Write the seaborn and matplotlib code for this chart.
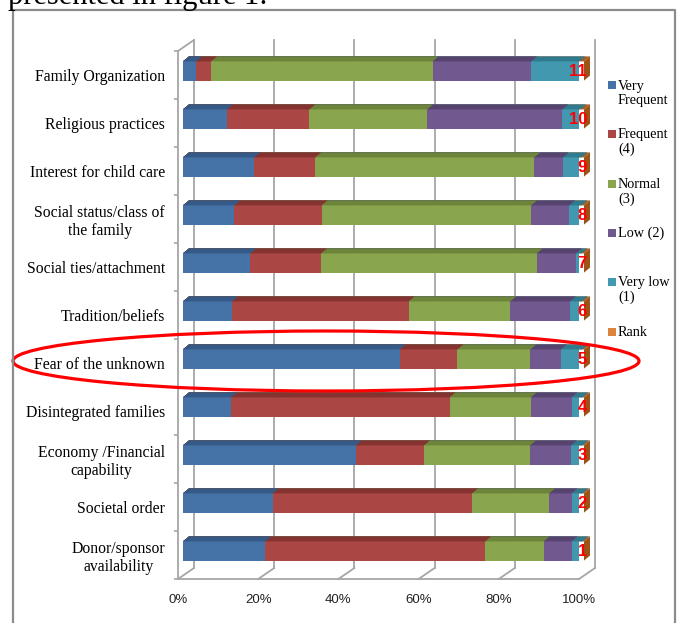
import numpy as np
import pandas as pd
import matplotlib
matplotlib.use("Agg")
import matplotlib.pyplot as plt
import seaborn as sns
from matplotlib.patches import Polygon, Rectangle, Ellipse
from matplotlib.lines import Line2D
from matplotlib.transforms import IdentityTransform, ScaledTranslation

# ---------------- data ----------------
categories = ["Family Organization", "Religious practices", "Interest for child care",
              "Social status/class of\nthe family", "Social ties/attachment", "Tradition/beliefs",
              "Fear of the unknown", "Disintegrated families", "Economy /Financial\ncapability",
              "Societal order", "Donor/sponsor\navailability"]
very_frequent = [3.3, 11.0, 17.8, 12.8, 16.8, 12.2, 54.1, 12.0, 43.2, 22.4, 20.5]
frequent = [3.7, 20.6, 15.2, 21.8, 17.7, 44.1, 14.4, 54.6, 17.0, 49.8, 55.0]
normal = [55.3, 29.5, 54.7, 52.3, 53.9, 25.4, 18.2, 20.3, 26.5, 19.3, 14.6]
low = [24.6, 33.8, 7.1, 9.5, 9.8, 14.9, 7.6, 10.2, 10.2, 5.6, 7.0]
very_low = [12.0, 4.4, 4.6, 3.0, 1.3, 2.9, 5.4, 2.7, 2.9, 2.7, 2.7]
rank_share = [1.2, 1.0, 0.7, 0.7, 0.7, 0.6, 0.4, 0.4, 0.4, 0.4, 0.4]
rank_labels = ["11", "10", "9", "8", "7", "6", "5", "4", "3", "2", "1"]
series_names = ["Very\nFrequent", "Frequent\n(4)", "Normal\n(3)", "Low (2)", "Very low\n(1)", "Rank"]
x_ticks = [0, 20, 40, 60, 80, 100]
x_tick_labels = ["0%", "20%", "40%", "60%", "80%", "100%"]

colors = ["#4572A7", "#AA4643", "#89A54E", "#71588F", "#4198AF", "#DB843D"]
top_colors = ["#355a88", "#853331", "#6b8439", "#574370", "#2f7a8d", "#a55e22"]
side_color = "#9a5418"

# ---------------- figure ----------------
W, H = 683, 623
fig = plt.figure(figsize=(W / 100, H / 100), dpi=100)
fig.patch.set_facecolor("white")
ax = fig.add_axes([178 / W, 44 / H, 401 / W, 528 / H])
ax.set_facecolor("none")

vals = np.array([very_frequent, frequent, normal, low, very_low, rank_share], dtype=float).T
vals = vals / vals.sum(axis=1, keepdims=True) * 100.0
cum = np.cumsum(vals, axis=1)

df = pd.DataFrame({"category": categories})
for k, name in enumerate(series_names):
    df[name] = cum[:, k]

bar_off = ScaledTranslation(5 / 100, 4 / 100, fig.dpi_scale_trans)
drawn = []
for k in reversed(range(len(series_names))):
    n0 = len(ax.patches)
    sns.barplot(data=df, x=series_names[k], y="category", orient="h", color=colors[k],
                saturation=1, width=0.4, errorbar=None, ax=ax)
    for p in ax.patches[n0:]:
        p.set_transform(ax.transData + bar_off)
        p.set_zorder(3 + (5 - k))
        p.set_linewidth(0)
        drawn.append((p, k))

ax.set_xlim(0, 100)
ax.set_ylim(len(categories) - 0.5, -0.5)

# 3D faces of the bars
dx, dy = 6, 5
for p, k in drawn:
    x0, y0 = p.get_x(), p.get_y()
    x1, y1 = x0 + p.get_width(), y0 + p.get_height()
    pts = p.get_data_transform().transform([[x0, y0], [x1, y0], [x1, y1], [x0, y1]])
    L, R = pts[:, 0].min(), pts[:, 0].max()
    B, T = pts[:, 1].min(), pts[:, 1].max()
    top = Polygon([[L, T], [R, T], [R + dx, T + dy], [L + dx, T + dy]], closed=True,
                  transform=IdentityTransform(), facecolor=top_colors[k], edgecolor="none",
                  zorder=p.get_zorder() + 0.1, clip_on=False)
    ax.add_patch(top)
    if k == len(series_names) - 1:
        side = Polygon([[R, B], [R + dx, B + dy], [R + dx, T + dy], [R, T]], closed=True,
                       transform=IdentityTransform(), facecolor=side_color, edgecolor="none",
                       zorder=p.get_zorder() + 0.1, clip_on=False)
        ax.add_patch(side)

# back wall grid lines and floor
gdx, gdy = 16, 11
gc = "#a6a6a6"
top_y = ax.transData.transform((0, -0.5))[1]
for v in x_ticks:
    fx, fy = ax.transData.transform((v, len(categories) - 0.5))
    ax.add_line(Line2D([fx + gdx, fx + gdx], [fy + gdy, top_y + gdy], transform=IdentityTransform(),
                       color=gc, lw=1.3, zorder=1, clip_on=False))
    ax.add_line(Line2D([fx, fx + gdx], [fy, fy + gdy], transform=IdentityTransform(),
                       color=gc, lw=1.3, zorder=1, clip_on=False))
lx = ax.transData.transform((0, 0))[0]
ax.add_line(Line2D([lx, lx + gdx], [top_y, top_y + gdy], transform=IdentityTransform(),
                   color=gc, lw=1.3, zorder=1, clip_on=False))

# rank labels
for i, lab in enumerate(rank_labels):
    ax.text(100, i, lab, transform=ax.transData + ScaledTranslation(8 / 100, 3 / 100, fig.dpi_scale_trans),
            ha="right", va="center", color="red", fontweight="bold", fontsize=12,
            family="Liberation Sans", zorder=20)

# axes styling
for s in ["top", "right"]:
    ax.spines[s].set_visible(False)
for s in ["left", "bottom"]:
    ax.spines[s].set_color(gc)
    ax.spines[s].set_linewidth(1.3)
ax.set_yticks(range(len(categories)), categories)
ax.set_yticks(np.arange(-0.5, len(categories), 1.0), minor=True)
ax.tick_params(axis="y", which="major", length=0, pad=9.4, labelsize=11.3)
ax.tick_params(axis="y", which="minor", length=3, color=gc, width=1.2)
for t in ax.get_yticklabels():
    t.set_family("Liberation Serif")
    t.set_multialignment("center")
ax.set_xticks(x_ticks, x_tick_labels)
ax.tick_params(axis="x", length=0, pad=11, labelsize=9.5, labelcolor="#222222")
for t in ax.get_xticklabels():
    t.set_family("Liberation Sans")
ax.set_xlabel("")
ax.set_ylabel("")
ax.grid(False)

# legend (manual, Excel style)
first_centers = [85, 134, 184, 233, 282, 332]
line_h = 16.7
for k, name in enumerate(series_names):
    cy = first_centers[k]
    fig.add_artist(Rectangle((608 / W, 1 - (cy + 4) / H), 8 / W, 8 / H, transform=fig.transFigure,
                             facecolor=colors[k], edgecolor="none"))
    nl = name.count("\n") + 1
    tc = cy + (nl - 1) * line_h / 2
    fig.text(618 / W, 1 - tc / H, name, ha="left", va="center", fontsize=10.3,
             family="Liberation Serif", linespacing=1.15)

# outer frame, heading text and highlight ellipse
fig.add_artist(Line2D([13 / W, 13 / W, 675 / W, 675 / W], [0, 1 - 10 / H, 1 - 10 / H, 0],
                      transform=fig.transFigure, color="#8c8c8c", lw=1.6))
fig.text(8 / W, 1 - 4 / H, "presented in figure 1:", family="Liberation Serif", fontsize=22,
         va="baseline", ha="left")
fig.add_artist(Ellipse((3.26, (H - 361) / 100), 6.26, 0.60, transform=fig.dpi_scale_trans,
                       fill=False, edgecolor="red", lw=2.3))

fig.savefig("out.png", dpi=100)
